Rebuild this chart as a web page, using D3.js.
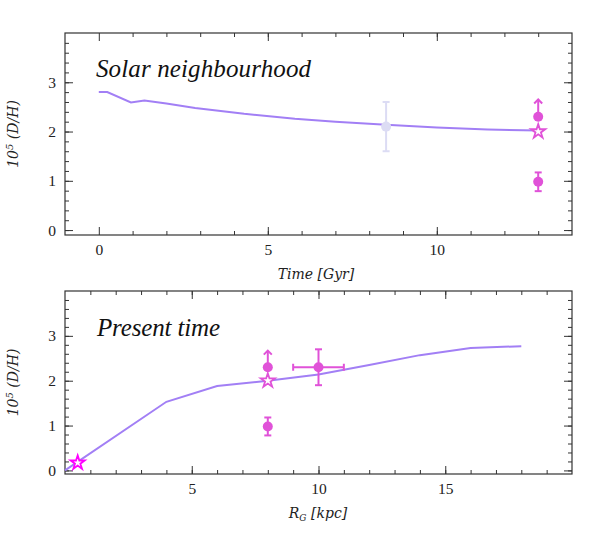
<!DOCTYPE html>
<meta charset="utf-8">
<script src="https://d3js.org/d3.v7.min.js"></script>
<style>
  body { margin: 0; background: #fff; }
  .tick text { font-family: "Liberation Serif", serif; font-size: 15.5px; fill: #222; }
  .lab { font-family: "DejaVu Serif", serif; font-style: italic; font-size: 14px; fill: #222; }
  .title { font-family: "Liberation Serif", serif; font-style: italic; font-size: 25px; fill: #111; }
</style>
<svg width="604" height="545"></svg>
<script>
// model curves
var timeModel   = [0, 0.25, 0.95, 1.35, 2, 2.85, 4.3, 5.8, 7, 8.5, 10, 11.5, 13];
var dhTime      = [2.80, 2.80, 2.59, 2.63, 2.57, 2.48, 2.36, 2.26, 2.20, 2.14, 2.08, 2.04, 2.02];
var radiusModel = [0, 4, 6, 8, 10, 12, 14, 16, 18];
var dhRadius    = [0, 1.53, 1.88, 2.00, 2.14, 2.35, 2.57, 2.73, 2.77];

// observations, top panel (time)
var protoSolar  = {x: 8.5, y: 2.1, ey: 0.5};
var ismLimitTop = {x: 13, y: 2.3, to: 2.65};
var ismStarTop  = {x: 13, y: 2.0};
var ismLowTop   = {x: 13, y: 0.98, ey: 0.19};

// observations, bottom panel (radius)
var gcStar      = {x: 0.5, y: 0.17};
var ismLimitBot = {x: 8, y: 2.3, to: 2.67};
var ismStarBot  = {x: 8, y: 2.0};
var ismLowBot   = {x: 8, y: 0.98, ey: 0.2};
var outerPoint  = {x: 10, y: 2.3, ey: 0.4, ex: 1};

var lineCol = "#a27ff5", magenta = "#e052d8", pink = "#ff00ff", lav = "#dcdcf4";

var svg = d3.select("svg");

function panel(xDom, yDom, top, bottom, xMajor, xMinor) {
  var x = d3.scaleLinear().domain(xDom).range([65, 572]);
  var y = d3.scaleLinear().domain(yDom).range([bottom, top]);
  var g = svg.append("g");
  var yMinor = d3.range(0, 3.9, 0.2), yMajor = [0, 1, 2, 3];

  function ax(gen, tr, vals, size, lab) {
    var a = g.append("g").attr("transform", tr)
      .call(gen.tickValues(vals).tickSizeInner(-size).tickSizeOuter(0).tickPadding(9)
        .tickFormat(lab ? d3.format("d") : ""));
    a.select(".domain").remove();
    a.selectAll("line").attr("stroke", "#333");
  }
  ax(d3.axisBottom(x), "translate(0," + bottom + ")", xMinor, 4, false);
  ax(d3.axisBottom(x), "translate(0," + bottom + ")", xMajor, 8, true);
  ax(d3.axisTop(x), "translate(0," + top + ")", xMinor, 4, false);
  ax(d3.axisTop(x), "translate(0," + top + ")", xMajor, 8, false);
  ax(d3.axisLeft(y), "translate(65,0)", yMinor, 4, false);
  ax(d3.axisLeft(y), "translate(65,0)", yMajor, 8, true);
  ax(d3.axisRight(y), "translate(572,0)", yMinor, 4, false);
  ax(d3.axisRight(y), "translate(572,0)", yMajor, 8, false);

  g.append("rect").attr("x", 65).attr("y", top).attr("width", 507).attr("height", bottom - top)
    .attr("fill", "none").attr("stroke", "#333").attr("stroke-width", 1.2);

  // y label
  var yl = g.append("text").attr("class", "lab")
    .attr("transform", "translate(18," + ((top + bottom) / 2) + ") rotate(-90)")
    .attr("text-anchor", "middle");
  yl.append("tspan").text("10");
  yl.append("tspan").attr("dy", -5).attr("font-size", 10).text("5");
  yl.append("tspan").attr("dy", 5).text(" (D/H)");
  return {x: x, y: y, g: g};
}

function errBar(p, o, col) {
  var cap = 3.5;
  if (o.ey) {
    p.g.append("line").attr("x1", p.x(o.x)).attr("x2", p.x(o.x))
      .attr("y1", p.y(o.y - o.ey)).attr("y2", p.y(o.y + o.ey)).attr("stroke", col).attr("stroke-width", 2);
    [o.y - o.ey, o.y + o.ey].forEach(function(v) {
      p.g.append("line").attr("x1", p.x(o.x) - cap).attr("x2", p.x(o.x) + cap)
        .attr("y1", p.y(v)).attr("y2", p.y(v)).attr("stroke", col).attr("stroke-width", 2);
    });
  }
  if (o.ex) {
    p.g.append("line").attr("x1", p.x(o.x - o.ex)).attr("x2", p.x(o.x + o.ex))
      .attr("y1", p.y(o.y)).attr("y2", p.y(o.y)).attr("stroke", col).attr("stroke-width", 2);
    [o.x - o.ex, o.x + o.ex].forEach(function(v) {
      p.g.append("line").attr("x1", p.x(v)).attr("x2", p.x(v))
        .attr("y1", p.y(o.y) - cap).attr("y2", p.y(o.y) + cap).attr("stroke", col).attr("stroke-width", 2);
    });
  }
  p.g.append("circle").attr("cx", p.x(o.x)).attr("cy", p.y(o.y)).attr("r", 5).attr("fill", col);
}

function lowerLimit(p, o, col) {
  var cx = p.x(o.x), ty = p.y(o.to);
  p.g.append("line").attr("x1", cx).attr("x2", cx).attr("y1", p.y(o.y)).attr("y2", ty)
    .attr("stroke", col).attr("stroke-width", 2);
  p.g.append("path").attr("d", "M" + (cx - 4) + "," + (ty + 4) + "L" + cx + "," + ty + "L" + (cx + 4) + "," + (ty + 4))
    .attr("fill", "none").attr("stroke", col).attr("stroke-width", 2);
  p.g.append("circle").attr("cx", cx).attr("cy", p.y(o.y)).attr("r", 5).attr("fill", col);
}

function star(p, o, col) {
  p.g.append("path").attr("d", d3.symbol(d3.symbolStar, 62)())
    .attr("transform", "translate(" + p.x(o.x) + "," + p.y(o.y) + ")")
    .attr("fill", "#fff").attr("stroke", col).attr("stroke-width", 1.8);
}

function model(p, xs, ys) {
  p.g.append("path").datum(xs.map(function(v, i) { return [v, ys[i]]; }))
    .attr("d", d3.line().x(function(d) { return p.x(d[0]); }).y(function(d) { return p.y(d[1]); }))
    .attr("fill", "none").attr("stroke", lineCol).attr("stroke-width", 2);
}

// top panel
var pt = panel([-1, 14], [-0.1, 4], 33, 235, [0, 5, 10], d3.range(1, 14));
model(pt, timeModel, dhTime);
errBar(pt, protoSolar, lav);
lowerLimit(pt, ismLimitTop, magenta);
errBar(pt, ismLowTop, magenta);
star(pt, ismStarTop, magenta);
pt.g.append("text").attr("class", "title").attr("x", 96).attr("y", 77)
  .attr("textLength", 215).text("Solar neighbourhood");
pt.g.append("text").attr("class", "lab").attr("x", 316).attr("y", 279)
  .attr("text-anchor", "middle").text("Time [Gyr]");

// bottom panel
var pb = panel([0, 20], [-0.08, 4], 291, 474, [5, 10, 15], d3.range(1, 20));
model(pb, radiusModel, dhRadius);
star(pb, gcStar, pink);
lowerLimit(pb, ismLimitBot, magenta);
errBar(pb, ismLowBot, magenta);
errBar(pb, outerPoint, magenta);
star(pb, ismStarBot, magenta);
pb.g.append("text").attr("class", "title").attr("x", 97).attr("y", 336)
  .attr("textLength", 123).text("Present time");
var rl = pb.g.append("text").attr("class", "lab").attr("x", 318).attr("y", 518).attr("text-anchor", "middle");
rl.append("tspan").text("R");
rl.append("tspan").attr("dy", 3).attr("font-size", 9).text("G");
rl.append("tspan").attr("dy", -3).text(" [kpc]");
</script>
